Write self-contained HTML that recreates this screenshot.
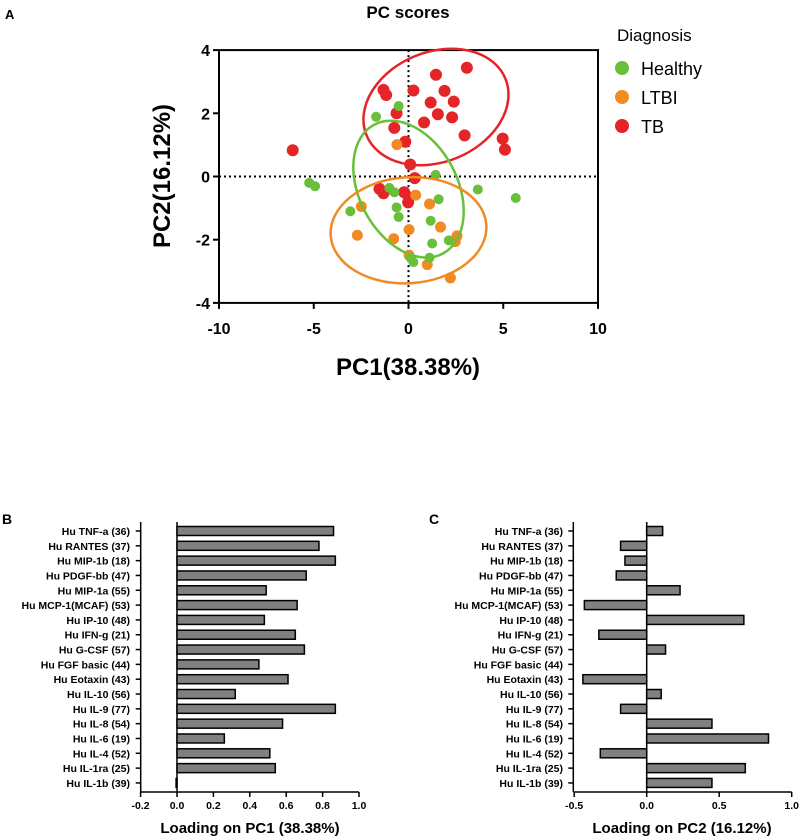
<!DOCTYPE html>
<html><head><meta charset="utf-8"><style>
body{margin:0;background:#fff;}
svg{display:block;font-family:"Liberation Sans",Arial,sans-serif;}
</style></head><body>
<svg id="svg" width="800" height="838" viewBox="0 0 800 838" xmlns="http://www.w3.org/2000/svg">
<g id="gA"></g>
<g id="gB"></g>
<g id="gC"></g>
</svg>
<script>
// ---- Panel A data ----
const healthyX=[-1.71,-0.52,-5.24,-4.93,1.43,3.66,5.66,-1.01,-0.75,-0.63,-0.52,-3.07,1.59,1.17,1.25,2.13,1.11,0.26,0.12];
const healthyY=[1.89,2.23,-0.2,-0.31,0.05,-0.41,-0.68,-0.36,-0.5,-0.98,-1.28,-1.1,-0.72,-1.4,-2.12,-2.02,-2.57,-2.71,-2.57];
const ltbiX=[-0.61,-2.49,0.38,1.11,1.69,-2.7,-0.78,0.03,2.56,2.47,0.03,0.99,2.21];
const ltbiY=[1.01,-0.95,-0.59,-0.87,-1.6,-1.86,-1.97,-1.68,-1.88,-2.06,-2.49,-2.79,-3.21];
const tbX=[3.08,1.45,-1.32,-1.18,0.26,1.9,2.39,1.17,-0.63,1.55,2.3,0.82,-0.75,2.96,-0.17,4.97,5.09,-6.11,0.09,0.33,-1.53,-1.32,-0.23,0.03,-0.02];
const tbY=[3.44,3.22,2.74,2.58,2.72,2.71,2.37,2.34,2.0,1.97,1.87,1.71,1.54,1.3,1.1,1.2,0.85,0.83,0.38,-0.05,-0.39,-0.53,-0.5,-0.66,-0.82];
const xTicksA=[-10,-5,0,5,10];
const yTicksA=[-4,-2,0,2,4];
const ellipseCx=[1.45,0.0,0.0];
const ellipseCy=[2.2,-0.4,-1.7];
// ---- Panel B/C data ----
const cytokines=["Hu TNF-a (36)","Hu RANTES (37)","Hu MIP-1b (18)","Hu PDGF-bb (47)","Hu MIP-1a (55)","Hu MCP-1(MCAF) (53)","Hu IP-10 (48)","Hu IFN-g (21)","Hu G-CSF (57)","Hu FGF basic (44)","Hu Eotaxin (43)","Hu IL-10 (56)","Hu IL-9 (77)","Hu IL-8 (54)","Hu IL-6 (19)","Hu IL-4 (52)","Hu IL-1ra (25)","Hu IL-1b (39)"];
const pc1Load=[0.86,0.78,0.87,0.71,0.49,0.66,0.48,0.65,0.70,0.45,0.61,0.32,0.87,0.58,0.26,0.51,0.54,-0.005];
const pc2Load=[0.11,-0.18,-0.15,-0.21,0.23,-0.43,0.67,-0.33,0.13,0,-0.44,0.10,-0.18,0.45,0.84,-0.32,0.68,0.45];
const pc1Ticks=["-0.2","0.0","0.2","0.4","0.6","0.8","1.0"];
const pc2Ticks=["-0.5","0.0","0.5","1.0"];

const NS="http://www.w3.org/2000/svg";
function mk(parent,tag,attrs,text){const e=document.createElementNS(NS,tag);for(const k in attrs)e.setAttribute(k,attrs[k]);if(text!==undefined)e.textContent=text;parent.appendChild(e);return e;}

// Panel A
const A=document.getElementById('gA');
const ax=v=>408.5+v*18.95, ay=v=>176.5-v*31.6;
let t=mk(A,'text',{x:5,y:19,'font-size':13,'font-weight':'bold'},'A');


t=mk(A,'text',{x:408,y:18,'font-size':17,'font-weight':'bold','text-anchor':'middle'},'PC scores');


let fr=mk(A,'rect',{x:ax(-10),y:ay(4),width:ax(10)-ax(-10),height:ay(-4)-ay(4),fill:'none',stroke:'#000','stroke-width':2});


let l=mk(A,'line',{x1:ax(-10),x2:ax(10),y1:ay(0),y2:ay(0),stroke:'#000','stroke-width':2,'stroke-dasharray':'2,3'});


l=mk(A,'line',{x1:ax(0),x2:ax(0),y1:ay(4),y2:ay(-4),stroke:'#000','stroke-width':2,'stroke-dasharray':'2,3'});


xTicksA.forEach(v=>{
  const tk=mk(A,'line',{x1:ax(v),x2:ax(v),y1:ay(-4),y2:ay(-4)+6,stroke:'#000','stroke-width':2});
  
  
  const tl=mk(A,'text',{x:ax(v),y:ay(-4)+31,'font-size':16,'font-weight':'bold','text-anchor':'middle'},String(v));
  
  
});
yTicksA.forEach(v=>{
  const tk=mk(A,'line',{x1:ax(-10)-6,x2:ax(-10),y1:ay(v),y2:ay(v),stroke:'#000','stroke-width':2});
  
  
  const tl=mk(A,'text',{x:ax(-10)-9,y:ay(v)+6,'font-size':16,'font-weight':'bold','text-anchor':'end'},String(v));
  
  
});
t=mk(A,'text',{x:408,y:375,'font-size':24,'font-weight':'bold','text-anchor':'middle'},'PC1(38.38%)');


t=mk(A,'text',{x:0,y:0,'font-size':24,'font-weight':'bold','text-anchor':'middle',transform:'translate(170,176) rotate(-90)'},'PC2(16.12%)');


const colors={h:'#6abf3a',l:'#f28a24',t:'#e52428'};
function dots(xs,ys,c,r,name){xs.forEach((x,i)=>{const d=mk(A,'circle',{cx:ax(x),cy:ay(ys[i]),r:r,fill:c});});}
dots(tbX,tbY,colors.t,6,'tb-point');
dots(ltbiX,ltbiY,colors.l,5.5,'ltbi-point');
dots(healthyX,healthyY,colors.h,5,'healthy-point');
const ellParams=[[75,55,-22,colors.t,'tb-ellipse'],[73,49,62,colors.h,'healthy-ellipse'],[78,53,-4,colors.l,'ltbi-ellipse']];
ellParams.forEach((p,i)=>{const cx=ax(ellipseCx[i]),cy=ay(ellipseCy[i]);
  const e=mk(A,'ellipse',{cx:cx,cy:cy,rx:p[0],ry:p[1],fill:'none',stroke:p[3],'stroke-width':2.5,transform:`rotate(${p[2]} ${cx} ${cy})`});
  
  });
t=mk(A,'text',{x:617,y:41,'font-size':17},'Diagnosis');


[['Healthy',colors.h,68],['LTBI',colors.l,97],['TB',colors.t,126]].forEach(e=>{
  const g=mk(A,'g',{});
  
  
  mk(g,'circle',{cx:622,cy:e[2],r:7,fill:e[1]});
  mk(g,'text',{x:641,y:e[2]+7,'font-size':18},e[0]);
});

function barPanel(G,letter,lx,vals,ticks,x0px,xmin,xmax,xmaxPx,axisX,labelRight,title,titleX){
  const sc=v=>x0px+(v)*(xmaxPx-x0px)/xmax;
  const y0=531, step=14.82, axisY=792;
  let tt=mk(G,'text',{x:lx,y:524,'font-size':14,'font-weight':'bold'},letter);
  
  
  let a=mk(G,'line',{x1:axisX,x2:axisX,y1:522,y2:axisY,stroke:'#000','stroke-width':1.5});
  
  
  a=mk(G,'line',{x1:axisX,x2:xmaxPx,y1:axisY,y2:axisY,stroke:'#000','stroke-width':1.5});
  
  
  a=mk(G,'line',{x1:x0px,x2:x0px,y1:522,y2:axisY,stroke:'#000','stroke-width':1.5});
  
  
  cytokines.forEach((c,i)=>{
    const y=y0+i*step;
    const tk=mk(G,'line',{x1:axisX-5,x2:axisX,y1:y,y2:y,stroke:'#000','stroke-width':1.5});
    
    
    const lb=mk(G,'text',{x:labelRight,y:y+4,'font-size':10.5,'font-weight':'bold','text-anchor':'end'},c);
    
    
    const v=vals[i];
    const xa=Math.min(sc(0),sc(v)), w=Math.abs(sc(v)-sc(0));
    const b=mk(G,'rect',{x:xa,y:y-4.5,width:w,height:9,fill:'#808080',stroke:'#000','stroke-width':1.5});
    
    
  });
  ticks.forEach(s=>{
    const v=parseFloat(s), x=sc(v);
    const tk=mk(G,'line',{x1:x,x2:x,y1:axisY,y2:axisY+5,stroke:'#000','stroke-width':1.5});
    
    
    const tl=mk(G,'text',{x:x,y:axisY+17,'font-size':10.5,'font-weight':'bold','text-anchor':'middle'},s);
    
    
  });
  tt=mk(G,'text',{x:titleX,y:833,'font-size':15,'font-weight':'bold','text-anchor':'middle'},title);
  
  
}
barPanel(document.getElementById('gB'),'B',2,pc1Load,pc1Ticks,177,-0.2,1.0,359,140.7,130,'Loading on PC1 (38.38%)',250);
barPanel(document.getElementById('gC'),'C',429,pc2Load,pc2Ticks,646.7,-0.5,1.0,791.7,573.3,563,'Loading on PC2 (16.12%)',682);
</script>
</body></html>
